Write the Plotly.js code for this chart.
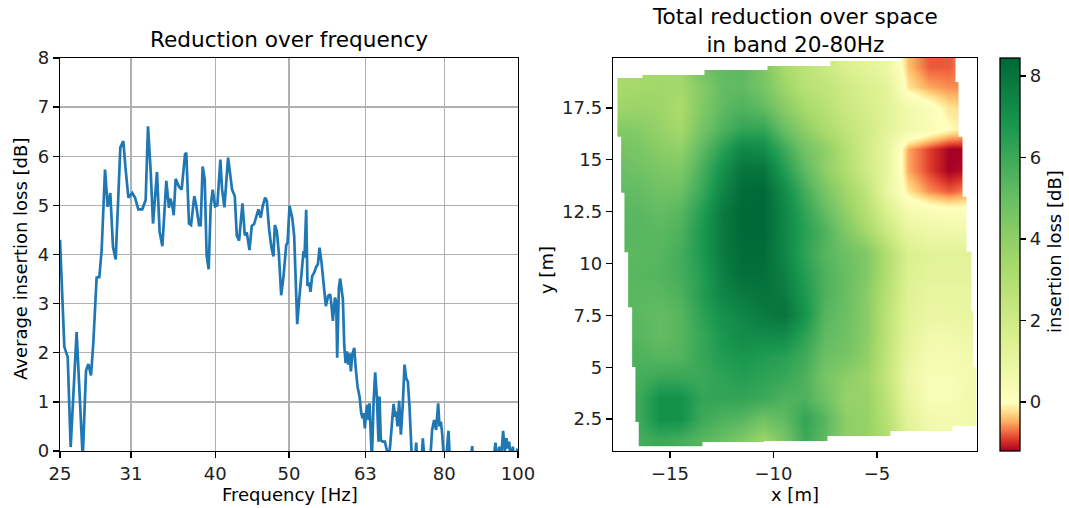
<!DOCTYPE html>
<html>
<head>
<meta charset="utf-8">
<script src="https://cdn.plot.ly/plotly-3.0.1.min.js"></script>
<style>html,body{margin:0;padding:0;background:#fff;}#chart{width:1069px;height:508px;}</style>
</head>
<body>
<div id="chart"></div>
<script>
// ---- Left panel: average insertion loss over frequency ----
const freqHz = [25.00,25.33,25.59,25.82,26.29,26.78,27.05,27.24,27.46,27.65,27.93,28.16,28.36,28.65,28.88,29.11,29.35,29.59,30.01,30.28,30.50,30.75,31.12,31.37,31.69,32.07,32.40,32.63,32.89,33.13,33.53,33.80,34.08,34.49,34.77,34.91,35.12,35.27,35.48,35.84,36.13,36.50,36.64,36.94,37.17,37.54,37.77,38.08,38.27,38.50,38.74,38.97,39.21,39.45,39.69,39.97,40.25,40.62,40.83,41.12,41.58,41.83,42.09,42.43,42.69,42.99,43.43,43.74,44.00,44.36,44.67,44.99,45.26,45.58,45.90,46.18,46.51,46.75,47.08,47.41,47.70,47.90,48.19,48.48,48.83,49.18,49.58,49.78,50.08,50.49,50.79,51.00,51.26,51.57,51.98,52.25,52.40,52.67,52.88,53.15,53.36,53.63,53.96,54.29,54.57,54.84,55.17,55.51,55.90,56.30,56.64,56.87,57.10,57.45,57.68,57.85,58.15,58.38,58.86,59.10,59.34,59.58,59.82,60.06,60.30,60.55,60.92,61.16,61.53,61.90,62.22,62.47,62.66,62.91,63.16,63.42,63.61,63.80,64.06,64.25,64.58,64.90,65.23,65.56,65.76,66.02,66.42,66.83,67.23,67.57,67.92,68.26,68.61,68.95,69.16,69.44,69.79,70.15,70.57,70.93,71.29,71.65,72.01,72.37,72.59,73.18,73.48,73.77,74.67,74.97,75.27,76.03,76.65,77.11,77.58,78.05,78.53,78.85,79.17,79.49,79.81,80.30,80.62,81.03,81.44,82.68,84.79,86.52,87.05,87.40,89.18,91.45,92.84,93.40,93.97,94.54,95.12,95.60,96.09,96.57,96.96,97.35,97.84,98.44,98.93,99.83];
const lossDb = [4.30,2.12,1.91,0.08,2.42,-0.15,1.64,1.77,1.54,2.19,3.53,3.54,4.09,5.73,4.97,5.25,4.15,3.90,6.18,6.31,5.72,5.16,5.25,5.16,4.92,4.92,5.11,6.61,5.72,4.63,5.68,4.46,4.17,5.50,4.95,5.14,5.00,4.80,5.54,5.38,5.32,6.04,6.07,4.63,4.60,5.19,4.98,4.60,4.60,5.79,5.53,3.97,3.70,4.99,5.32,4.98,5.00,5.93,5.33,4.96,5.97,5.67,5.32,5.19,4.39,4.28,5.04,4.39,4.45,4.09,4.58,4.62,4.75,4.92,4.75,4.99,5.16,5.09,4.51,4.14,3.96,4.60,4.48,4.04,3.17,3.56,4.19,4.24,4.99,4.75,4.38,3.70,2.58,3.09,3.80,4.07,3.94,4.91,3.36,3.43,3.24,3.56,3.63,3.75,3.80,4.14,3.84,3.36,2.95,3.16,3.19,2.95,2.65,3.12,3.05,1.90,3.33,3.51,3.08,2.16,1.79,2.03,1.76,1.99,1.62,1.96,2.10,1.72,1.31,1.11,0.77,0.67,0.77,0.46,0.80,0.94,0.63,0.97,0.09,-0.20,0.97,1.60,1.11,0.19,1.11,0.22,0.19,0.19,0.02,-0.20,0.12,0.50,0.96,0.70,0.80,0.50,1.02,0.33,0.97,1.76,1.48,1.41,0.90,0.16,-0.30,-0.20,0.17,-0.30,-0.20,0.26,-0.10,-0.40,-0.20,0.43,0.63,0.43,0.97,0.50,0.60,0.36,-0.05,-0.30,0.09,0.41,-0.30,-0.50,-0.40,-0.30,0.10,-0.30,-0.50,-0.40,-0.20,0.17,-0.20,0.09,-0.05,0.41,0.00,0.26,0.05,0.19,-0.20,0.09,-0.20,0.05];
const freqTicks = [25, 31, 40, 50, 63, 80, 100];
const freqTickText = ['25', '31', '40', '50', '63', '80', '100'];
const lossTicks = [0, 1, 2, 3, 4, 5, 6, 7, 8];

// ---- Right panel: total reduction over space (grid of readings) ----
const gridX = [-17.5,-16.5,-15.5,-14.5,-13.5,-12.5,-11.5,-10.5,-9.5,-8.5,-7.5,-6.5,-5.5,-4.5,-3.5,-2.5,-1.5,-0.5];
const gridY = [1.5,2.5,3.5,4.5,5.5,6.5,7.5,8.5,9.5,10.5,11.5,12.5,13.5,14.5,15.5,16.5,17.5,18.5,19.5];
const reductionDb = [
  [5.4,5.8,6.0,5.8,5.4,5.0,4.4,3.6,4.6,6.0,5.2,4.0,3.8,3.0,1.5,0.8,0.6,0.6],
  [5.8,6.0,7.0,7.0,6.0,5.6,5.4,4.8,5.2,6.2,5.4,4.0,3.8,2.8,1.2,0.6,0.5,0.6],
  [5.8,6.0,7.0,7.0,6.2,6.2,6.2,6.0,5.6,5.6,4.8,3.8,3.8,2.6,1.0,0.3,0.3,0.6],
  [5.6,5.8,6.1,6.1,6.0,6.3,6.5,6.3,6.1,5.6,4.6,4.0,3.6,2.4,0.8,0.3,0.3,0.5],
  [5.6,5.6,5.4,5.5,6.1,6.6,6.8,6.6,6.4,5.9,4.9,4.6,3.9,2.5,1.0,0.4,0.4,0.6],
  [5.5,5.4,5.1,5.4,6.1,6.8,7.2,7.2,7.2,6.3,5.2,4.8,4.1,2.6,1.2,0.6,0.6,0.8],
  [5.3,5.3,5.1,5.4,6.3,7.0,7.4,7.8,8.0,6.9,5.4,4.9,4.1,2.6,1.3,0.9,0.9,1.0],
  [5.3,5.3,5.3,5.6,6.5,7.4,7.8,8.0,7.8,6.7,5.6,5.0,4.1,2.8,1.4,1.0,1.0,1.0],
  [5.3,5.4,5.5,5.8,6.5,7.6,8.2,8.2,7.6,6.5,5.6,5.0,4.3,3.0,1.5,1.2,1.2,1.2],
  [5.3,5.3,5.4,5.8,6.7,7.8,8.3,8.3,7.4,6.3,5.4,4.9,4.3,3.0,1.6,1.3,1.3,1.3],
  [5.3,5.4,5.3,5.6,6.7,7.8,8.4,8.4,7.4,6.4,5.6,4.4,3.4,2.2,1.0,0.7,0.7,0.7],
  [5.3,5.3,5.1,5.4,6.5,7.8,8.4,8.4,7.4,6.2,5.1,3.9,2.8,1.6,0.5,0.3,0.2,0.2],
  [5.2,5.1,4.8,4.9,6.0,7.4,8.3,8.4,7.2,5.8,4.6,3.5,2.5,0.9,-0.2,-0.6,-0.8,-0.6],
  [5.0,4.8,4.5,4.4,5.7,7.0,8.0,8.0,6.6,5.2,4.0,3.0,2.0,1.0,-0.5,-0.9,-1.2,-1.1],
  [4.7,4.5,4.1,3.9,5.2,6.4,7.4,7.2,6.0,4.7,4.0,2.9,1.9,1.0,-0.5,-0.9,-1.2,-1.2],
  [4.3,4.2,3.8,3.4,4.6,5.6,6.2,6.2,5.0,4.0,3.2,2.5,2.0,1.2,0.6,0.3,0.0,-0.2],
  [3.6,3.7,3.6,3.2,4.3,5.2,5.6,5.2,4.2,3.3,2.8,2.2,1.8,1.3,0.6,0.2,-0.2,-0.3],
  [3.3,3.4,3.5,3.4,4.2,5.1,5.2,4.6,3.6,2.8,2.5,2.0,1.6,1.2,-0.2,-0.5,-0.6,-0.6],
  [3.3,3.3,3.4,3.5,4.8,5.2,5.3,4.5,3.3,2.6,2.2,1.6,1.2,0.8,-0.4,-0.8,-0.8,-0.5]
];
// measured-area outline (x, y in metres), counter-clockwise
const outlineX = [-17.536,-17.536,-17.357,-17.357,-17.198,-17.198,-17.019,-17.019,-16.826,-16.826,-16.667,-16.667,-16.507,-16.507,-13.430,-13.430,-10.435,-10.435,-7.391,-7.391,-4.348,-4.348,-1.353,-1.353,-0.193,-0.193,-0.338,-0.338,-0.435,-0.435,-0.676,-0.676,-0.870,-0.870,-1.063,-1.063,-1.208,-1.208,-3.865,-3.865,-7.246,-7.246,-10.290,-10.290,-13.333,-13.333,-16.329,-16.329,-17.536];
const outlineY = [18.942,16.106,16.106,13.413,13.413,10.543,10.543,7.885,7.885,5.014,5.014,2.356,2.356,1.188,1.188,1.394,1.394,1.442,1.442,1.683,1.683,1.923,1.923,2.163,2.163,5.000,5.000,7.692,7.692,10.577,10.577,13.221,13.221,16.106,16.106,18.750,18.750,19.950,19.950,19.760,19.760,19.519,19.519,19.327,19.327,19.087,19.087,18.942,18.942];
const xTicksM = [-15, -10, -5];
const yTicksM = [2.5, 5, 7.5, 10, 12.5, 15, 17.5];
const cbarTicks = [0, 2, 4, 6, 8];
const zMin = -1.2, zMax = 8.44;
const cmapValues = [-1.2, -0.96, -0.72, -0.48, -0.24, 0, 1.688, 3.376, 5.064, 6.752, 8.44];
const cmapColors = ['#a50026','#d73027','#f46d43','#fdae61','#fee08b','#ffffbf','#d9ef8b','#a6d96a','#66bd63','#1a9850','#006837'];

const colorscale = cmapValues.map((v, i) => [(v - zMin) / (zMax - zMin), cmapColors[i]]);

// mask: outer rectangle joined (keyhole) to the outline so only the outside is painted white
const ox0 = -18.5, ox1 = 0.5, oy0 = 0.3, oy1 = 20.6;
const maskX = [ox0, ox1, ox1, ox0, ox0].concat(outlineX).concat([ox0]);
const maskY = [oy1, oy1, oy0, oy0, oy1].concat(outlineY).concat([oy1]);

const FONT = 'DejaVu Sans, Liberation Sans, sans-serif';
const W = 1069, H = 508;
const px = v => v / W, py = v => 1 - v / H;

const axisStyle = {
  showline: true, mirror: true, linecolor: '#000', linewidth: 1.3,
  ticks: 'outside', ticklen: 6, tickwidth: 1.3, tickcolor: '#000',
  tickfont: {family: FONT, size: 18, color: '#222'}, zeroline: false
};

const traces = [
  {
    type: 'scatter', mode: 'lines', x: freqHz, y: lossDb, xaxis: 'x', yaxis: 'y',
    line: {color: '#1f77b4', width: 2.7}, showlegend: false, hoverinfo: 'x+y'
  },
  {
    type: 'heatmap', x: gridX, y: gridY, z: reductionDb, xaxis: 'x2', yaxis: 'y2',
    zsmooth: 'best', colorscale: colorscale, zmin: zMin, zmax: zMax,
    colorbar: {
      x: px(1000), xanchor: 'left', y: 1 - 451 / H, yanchor: 'bottom',
      len: 393 / H, lenmode: 'fraction', thickness: 20, thicknessmode: 'pixels',
      xpad: 0, ypad: 0, outlinewidth: 1.3, outlinecolor: '#000', borderwidth: 0,
      ticks: 'outside', ticklen: 6, tickwidth: 1.3, tickcolor: '#000',
      tickvals: cbarTicks, tickfont: {family: FONT, size: 18, color: '#222'}
    }
  },
  {
    type: 'scatter', mode: 'lines', x: maskX, y: maskY, xaxis: 'x2', yaxis: 'y2',
    fill: 'toself', fillcolor: '#ffffff', line: {width: 0, color: 'rgba(0,0,0,0)'},
    showlegend: false, hoverinfo: 'skip'
  }
];

const yDom = [1 - 451 / H, 1 - 58 / H];
const layout = {
  width: W, height: H,
  margin: {l: 0, r: 0, t: 0, b: 0, pad: 0},
  paper_bgcolor: '#fff', plot_bgcolor: '#fff',
  font: {family: FONT, size: 18, color: '#000'},
  showlegend: false,
  xaxis: Object.assign({}, axisStyle, {
    type: 'log', range: [Math.log10(25), 2], domain: [px(60), px(518)], anchor: 'y',
    tickvals: freqTicks, ticktext: freqTickText,
    showgrid: true, gridcolor: '#b0b0b0', gridwidth: 1.4
  }),
  yaxis: Object.assign({}, axisStyle, {
    range: [0, 8], domain: yDom, anchor: 'x', tickvals: lossTicks,
    showgrid: true, gridcolor: '#b0b0b0', gridwidth: 1.4
  }),
  xaxis2: Object.assign({}, axisStyle, {
    range: [-17.75, -0.169], domain: [px(613), px(977)], anchor: 'y2',
    tickvals: xTicksM, showgrid: false
  }),
  yaxis2: Object.assign({}, axisStyle, {
    range: [0.962, 19.904], domain: yDom, anchor: 'x2',
    tickvals: yTicksM, showgrid: false
  }),
  annotations: [
    {text: 'Reduction over frequency', xref: 'paper', yref: 'paper', x: px(289), y: py(40),
     xanchor: 'center', yanchor: 'middle', showarrow: false, font: {family: FONT, size: 21.6, color: '#000'}},
    {text: 'Total reduction over space<br>in band 20-80Hz', xref: 'paper', yref: 'paper', x: px(795), y: py(30),
     xanchor: 'center', yanchor: 'middle', showarrow: false, font: {family: FONT, size: 21.6, color: '#000'}},
    {text: 'Frequency [Hz]', xref: 'paper', yref: 'paper', x: px(290), y: py(494),
     xanchor: 'center', yanchor: 'middle', showarrow: false, font: {family: FONT, size: 18, color: '#000'}},
    {text: 'Average insertion loss [dB]', xref: 'paper', yref: 'paper', x: px(20), y: py(259), textangle: -90,
     xanchor: 'center', yanchor: 'middle', showarrow: false, font: {family: FONT, size: 18, color: '#000'}},
    {text: 'x [m]', xref: 'paper', yref: 'paper', x: px(795), y: py(494),
     xanchor: 'center', yanchor: 'middle', showarrow: false, font: {family: FONT, size: 18, color: '#000'}},
    {text: 'y [m]', xref: 'paper', yref: 'paper', x: px(546), y: py(270), textangle: -90,
     xanchor: 'center', yanchor: 'middle', showarrow: false, font: {family: FONT, size: 18, color: '#000'}},
    {text: 'insertion loss [dB]', xref: 'paper', yref: 'paper', x: px(1054), y: py(252), textangle: -90,
     xanchor: 'center', yanchor: 'middle', showarrow: false, font: {family: FONT, size: 18, color: '#000'}}
  ]
};

Plotly.newPlot('chart', traces, layout, {staticPlot: true, displayModeBar: false});
</script>
</body>
</html>
